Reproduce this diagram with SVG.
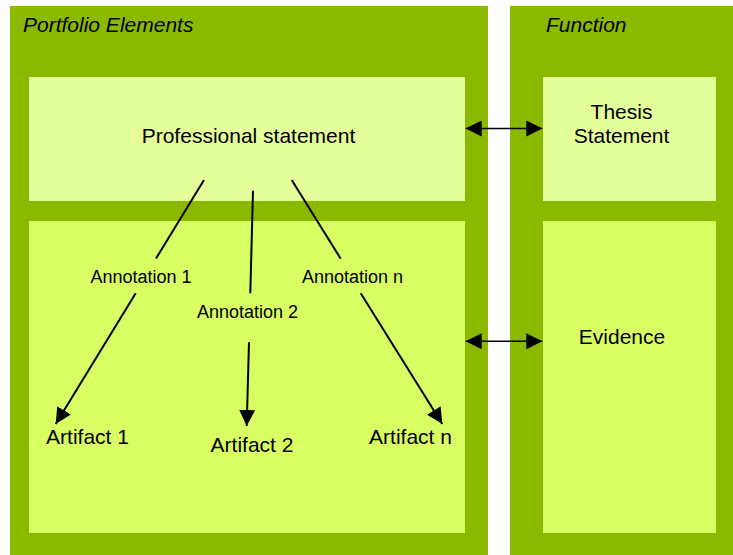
<svg xmlns="http://www.w3.org/2000/svg" width="733" height="555" viewBox="0 0 733 555">
<style>
.panel{fill:#8BB900}
.top{fill:#E4FE9A}
.bot{fill:#D8FE63}
text{font-family:"Liberation Sans",Arial,sans-serif;fill:#000}
.title{font-size:21px;font-style:italic}
.lbl{font-size:21px;text-anchor:middle}
.ann{font-size:18px;text-anchor:middle}
.con{stroke:#000;stroke-width:2;fill:none}
.dbl{stroke:#000;stroke-width:1.6;fill:none}
</style>
<defs>
<marker id="ah" markerUnits="userSpaceOnUse" markerWidth="17" markerHeight="16" refX="16" refY="8" orient="auto-start-reverse" viewBox="0 0 17 16">
<path d="M0,0 L16,8 L0,16 z" fill="#000"/>
</marker>
</defs>
<rect width="733" height="555" fill="#fff"/>
<g id="portfolio-elements">
<rect class="panel" x="10" y="6" width="478" height="549"/>
<text class="title" x="23" y="32">Portfolio Elements</text>
</g>
<g id="function">
<rect class="panel" x="510" y="6" width="223" height="549"/>
<text class="title" x="546" y="32">Function</text>
</g>
<g id="professional-statement">
<rect class="top" x="29" y="77" width="436" height="124"/>
<text class="lbl" x="248.5" y="143">Professional statement</text>
</g>
<g id="artifacts-area">
<rect class="bot" x="29" y="221" width="436" height="312"/>
</g>
<g id="thesis-statement">
<rect class="top" x="543" y="77" width="173" height="124"/>
<text class="lbl" x="621.5" y="119">Thesis</text>
<text class="lbl" x="621.5" y="143">Statement</text>
</g>
<g id="evidence">
<rect class="bot" x="543" y="221" width="173" height="312"/>
<text class="lbl" x="622" y="343.5">Evidence</text>
</g>
<g id="annotation-1"><text class="ann" x="141" y="282.5">Annotation 1</text></g>
<g id="annotation-2"><text class="ann" x="247.5" y="317.5">Annotation 2</text></g>
<g id="annotation-n"><text class="ann" x="352.5" y="282.5">Annotation n</text></g>
<g id="artifact-1"><text class="lbl" x="87.5" y="444">Artifact 1</text></g>
<g id="artifact-2"><text class="lbl" x="252" y="452">Artifact 2</text></g>
<g id="artifact-n"><text class="lbl" x="410.5" y="444">Artifact n</text></g>
<g id="connectors">
<line class="con" x1="204" y1="180" x2="156" y2="258.5"/>
<line class="con" x1="135.7" y1="293.3" x2="55.7" y2="424" marker-end="url(#ah)"/>
<line class="con" x1="253" y1="190.7" x2="250.3" y2="293.3"/>
<line class="con" x1="249" y1="342.3" x2="246.7" y2="426" marker-end="url(#ah)"/>
<line class="con" x1="291.7" y1="180" x2="340.7" y2="258.7"/>
<line class="con" x1="360.7" y1="293.3" x2="442.3" y2="424" marker-end="url(#ah)"/>
<line class="dbl" x1="465.7" y1="128.5" x2="542.3" y2="128.5" marker-start="url(#ah)" marker-end="url(#ah)"/>
<line class="dbl" x1="465.7" y1="341.3" x2="542.3" y2="341.3" marker-start="url(#ah)" marker-end="url(#ah)"/>
</g>
</svg>
